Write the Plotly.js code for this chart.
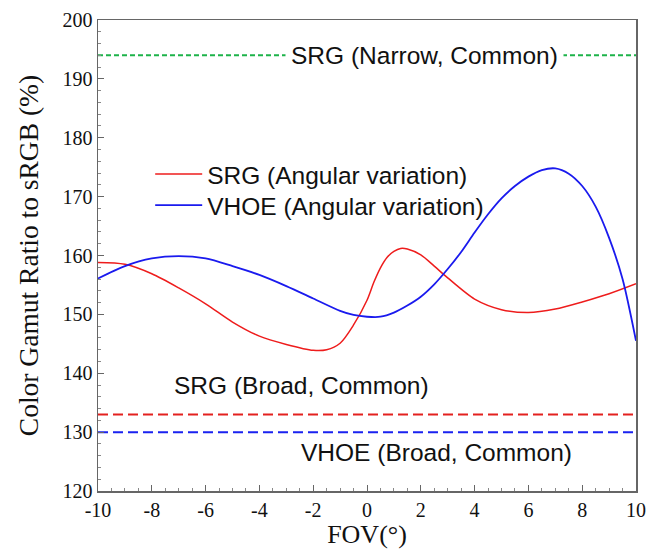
<!DOCTYPE html>
<html>
<head>
<meta charset="utf-8">
<script src="https://cdn.plot.ly/plotly-3.0.1.min.js"></script>
<style>body{margin:0;padding:0;background:#fff}#chart{width:648px;height:549px}</style>
</head>
<body>
<div id="chart"></div>
<script>
// Data
const srgX = [-10,-9,-8,-7,-6,-5,-4,-3,-2,-1.5,-1,-0.5,0,0.25,0.5,0.75,1,1.25,1.5,2,2.5,3,4,5,6,7,8,9,10];
const srgY = [158.8,158.5,156.9,154.5,151.8,148.7,146.3,144.9,143.9,144.0,145.1,148.2,152.4,155.4,157.9,159.7,160.7,161.2,161.1,160.1,158.2,156.2,152.6,150.8,150.3,150.9,152.1,153.5,155.2];
const vhoeX = [-10,-9,-8,-7,-6,-5,-4,-3,-2,-1,-0.5,0,0.5,1,1.5,2,2.5,3,3.5,4,4.5,5,5.5,6,6.5,7,7.5,8,8.5,9,9.5,10];
const vhoeY = [156.1,158.2,159.5,159.9,159.5,158.2,156.7,154.8,152.7,150.6,149.9,149.6,149.6,150.3,151.5,153.0,155.1,157.7,160.6,163.9,167.0,169.7,171.8,173.4,174.5,174.8,173.9,171.8,168.3,163.0,156.0,145.5];
const xRange = [-10, 10];
const xTicks = [-10,-8,-6,-4,-2,0,2,4,6,8,10];
const xTickText = ["-10","-8","-6","-4","-2","0","2","4","6","8","10"];
const refNames = ["SRG (Narrow, Common)", "SRG (Broad, Common)", "VHOE (Broad, Common)"];
const refValues = [194, 133, 130];
const seriesNames = ["SRG (Angular variation)", "VHOE (Angular variation)"];

const traces = [
  {x: xRange, y: [refValues[0], refValues[0]], mode: 'lines', showlegend: false,
   line: {color: '#1db34a', width: 2, dash: '5px,3px'}},
  {x: xRange, y: [refValues[1], refValues[1]], mode: 'lines', showlegend: false,
   line: {color: '#e3211f', width: 2, dash: '10px,5px'}},
  {x: xRange, y: [refValues[2], refValues[2]], mode: 'lines', showlegend: false,
   line: {color: '#1a22f0', width: 2, dash: '10px,5px'}},
  {x: srgX, y: srgY, mode: 'lines', name: seriesNames[0], legend: 'legend',
   line: {color: '#ee1c1c', width: 1.5, shape: 'spline', smoothing: 0.8}},
  {x: vhoeX, y: vhoeY, mode: 'lines', name: seriesNames[1], legend: 'legend2',
   line: {color: '#1a1aee', width: 1.8, shape: 'spline', smoothing: 0.8}}
];

const annFont = {family: 'Liberation Sans, Arial, sans-serif', size: 24.5, color: '#111'};
const legFont = {family: 'Liberation Sans, Arial, sans-serif', size: 24.5, color: '#111'};
const layout = {
  width: 648, height: 549,
  margin: {l: 98, r: 12, t: 20, b: 58},
  paper_bgcolor: '#fff', plot_bgcolor: '#fff',
  font: {family: 'Liberation Serif, Times New Roman, serif', size: 20, color: '#111'},
  xaxis: {
    range: xRange, tickmode: 'array', tickvals: xTicks, ticktext: xTickText,
    showgrid: false, zeroline: false,
    ticks: 'inside', ticklen: 6, tickcolor: '#666', tickwidth: 1,
    minor: {dtick: 0.5, ticks: 'inside', ticklen: 3, tickcolor: '#888'},
    showline: true, linecolor: '#666', linewidth: 1.5, mirror: true,
    tickfont: {family: 'Liberation Serif, serif', size: 20, color: '#111'},
    title: {text: 'FOV(°)', font: {family: 'Liberation Serif, serif', size: 26, color: '#111'}, standoff: 8}
  },
  yaxis: {
    range: [120, 200], dtick: 10, showgrid: false, zeroline: false,
    ticks: 'inside', ticklen: 6, tickcolor: '#666', tickwidth: 1,
    minor: {dtick: 2, ticks: 'inside', ticklen: 3, tickcolor: '#888'},
    showline: true, linecolor: '#666', linewidth: 1.5, mirror: true,
    tickfont: {family: 'Liberation Serif, serif', size: 20, color: '#111'},
    title: {text: 'Color Gamut Ratio to sRGB (%)', font: {family: 'Liberation Serif, serif', size: 27.5, color: '#111'}, standoff: 16}
  },
  legend: {
    x: 0.097, y: 0.673, xanchor: 'left', yanchor: 'middle',
    bgcolor: 'rgba(0,0,0,0)', borderwidth: 0, font: legFont, itemwidth: 47
  },
  legend2: {
    x: 0.097, y: 0.607, xanchor: 'left', yanchor: 'middle',
    bgcolor: 'rgba(0,0,0,0)', borderwidth: 0, font: legFont, itemwidth: 47
  },
  annotations: [
    {x: 2.12, y: refValues[0], xref: 'x', yref: 'y', text: refNames[0], showarrow: false,
     font: annFont, bgcolor: '#fff', borderpad: 5},
    {x: -2.42, y: 137.9, xref: 'x', yref: 'y', text: refNames[1], showarrow: false, font: annFont},
    {x: 2.6, y: 126.5, xref: 'x', yref: 'y', text: refNames[2], showarrow: false, font: annFont}
  ]
};

Plotly.newPlot('chart', traces, layout, {displayModeBar: false, staticPlot: true});
</script>
</body>
</html>
